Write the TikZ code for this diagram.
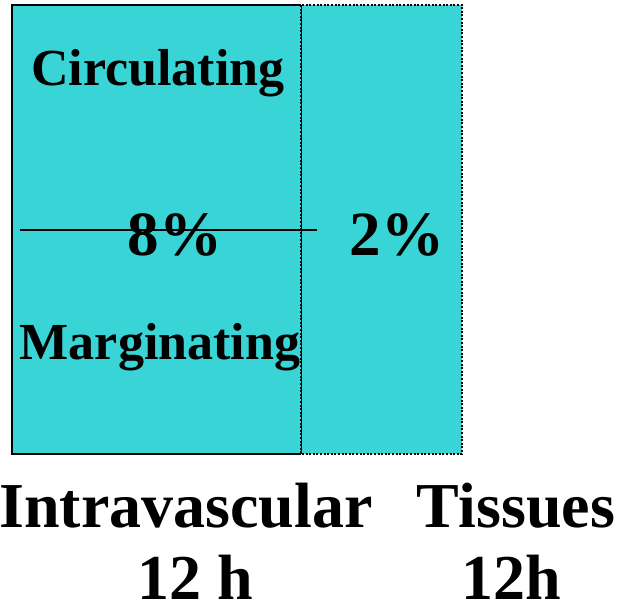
\documentclass[tikz,border=0pt]{standalone}
\usepackage{fontspec}
\setmainfont{Liberation Serif}
\usetikzlibrary{positioning}
\definecolor{pool}{RGB}{57,212,214}
\tikzset{poolbox/.style={fill=pool,draw=black},
  midtext/.style={font=\fontsize{52}{60}\selectfont\bfseries,inner sep=0pt,anchor=base},
  pcttext/.style={font=\fontsize{63}{72}\selectfont\bfseries,inner sep=0pt,anchor=base},
  captext/.style={font=\fontsize{64}{74}\selectfont\bfseries,inner sep=0pt,anchor=base}}
\begin{document}
\begin{tikzpicture}[x=1pt,y=-1pt]
\useasboundingbox (0,0) rectangle (617,605);
\fill[pool] (12,5) rectangle (462,454);
\draw[line width=2.4pt] (301,5)--(12,5)--(12,454)--(301,454);
\draw[line width=1pt] (301,5)--(301,454);
\draw[line width=2pt,dash pattern=on 2pt off 1.6pt] (301,5) rectangle (462,454);
\node[midtext] (circ) at (158,85) {Circulating};
\node[midtext] (marg) at (160,359) {Marginating};
\node[pcttext] (eight) at (175,255) {8\%};
\node[pcttext] (two) at (397,255) {2\%};
\coordinate (sepl) at (20,230);
\coordinate (sepr) at (317,230);
\draw[line width=1.8pt] (sepl)--(sepr);
\node[captext] (intra) at (186,527) {Intravascular};
\node[captext] (tiss) at (516,527) {Tissues};
\node[captext] (intrah) at (195,599) {12 h};
\node[captext] (tissh) at (511,599) {12h};
\end{tikzpicture}
\end{document}
